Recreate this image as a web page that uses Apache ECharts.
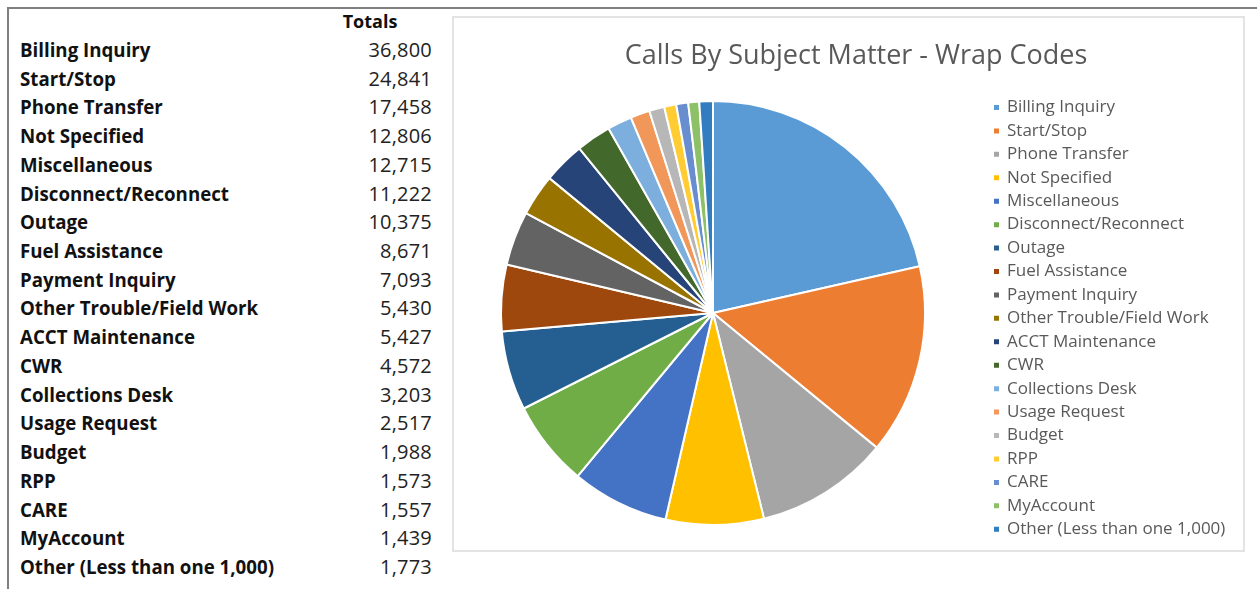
<!DOCTYPE html>
<html>
<head>
<meta charset="utf-8">
<script src="https://cdn.jsdelivr.net/npm/echarts@6/dist/echarts.min.js"></script>
<style>
  html, body { margin: 0; padding: 0; background: #fff; }
  body { width: 1257px; height: 589px; position: relative; overflow: hidden; font-family: "Open Sans", Lato, sans-serif; }
  .frame-top { position: absolute; left: 8px; top: 7px; width: 1249px; height: 2px; background: #7f7f7f; }
  .frame-left { position: absolute; left: 7px; top: 7px; width: 2px; height: 582px; background: #7f7f7f; }
  .totals-head { position: absolute; left: 320px; top: 9px; width: 100px; text-align: center; font-weight: bold; font-size: 18px; color: #111; }
  .row-label { position: absolute; left: 20px; font-weight: bold; font-size: 18.7px; line-height: 24px; color: #111; white-space: nowrap; }
  .row-value { position: absolute; left: 292px; width: 140px; text-align: right; font-size: 20px; letter-spacing: 0.2px; line-height: 24px; color: #222; }
  #chart { position: absolute; left: 452px; top: 16px; width: 793px; height: 536px; box-sizing: border-box; border: 2px solid #e3e3e3; }
</style>
</head>
<body>
<div class="frame-top"></div>
<div class="frame-left"></div>
<div class="totals-head">Totals</div>
<div id="table"></div>
<div id="chart"></div>
<script>
// 分类
const categories = [
  'Billing Inquiry', 'Start/Stop', 'Phone Transfer', 'Not Specified', 'Miscellaneous',
  'Disconnect/Reconnect', 'Outage', 'Fuel Assistance', 'Payment Inquiry', 'Other Trouble/Field Work',
  'ACCT Maintenance', 'CWR', 'Collections Desk', 'Usage Request', 'Budget',
  'RPP', 'CARE', 'MyAccount', 'Other (Less than one 1,000)'
]
// 数值
const totals = [
  36800, 24841, 17458, 12806, 12715,
  11222, 10375, 8671, 7093, 5430,
  5427, 4572, 3203, 2517, 1988,
  1573, 1557, 1439, 1773
]
// 颜色
const colors = [
  '#5B9BD5', '#ED7D31', '#A5A5A5', '#FFC000', '#4472C4',
  '#70AD47', '#255E91', '#9E480E', '#636363', '#997300',
  '#264478', '#43682B', '#7CAFDD', '#F1975A', '#B7B7B7',
  '#FFCD33', '#698ED0', '#8CC168', '#327DC2'
]

// 左侧表格
const table = document.getElementById('table')
categories.forEach((name, i) => {
  const top = 38 + i * 28.72
  const label = document.createElement('div')
  label.className = 'row-label'
  label.style.top = top + 'px'
  label.textContent = name
  const value = document.createElement('div')
  value.className = 'row-value'
  value.style.top = top + 'px'
  value.textContent = totals[i].toLocaleString('en-US')
  table.appendChild(label)
  table.appendChild(value)
})

const chart = echarts.init(document.getElementById('chart'))
chart.setOption({
  animation: false,
  color: colors,
  title: {
    text: 'Calls By Subject Matter - Wrap Codes',
    left: 397,
    top: 20,
    textAlign: 'center',
    textStyle: {
      color: '#595959',
      fontSize: 27,
      fontWeight: 'normal',
      fontFamily: 'Open Sans'
    }
  },
  legend: {
    orient: 'vertical',
    left: 533,
    top: 76,
    height: 500,
    itemWidth: 7,
    itemHeight: 7,
    itemGap: 6.43,
    icon: 'rect',
    textStyle: {
      color: '#595959',
      fontSize: 17,
      fontFamily: 'Open Sans',
      lineHeight: 16,
      padding: [0, 0, 0, 2]
    },
    data: categories
  },
  series: [
    {
      type: 'pie',
      center: [259, 295],
      radius: 212,
      startAngle: 90,
      clockwise: true,
      label: { show: false },
      labelLine: { show: false },
      itemStyle: {
        borderColor: '#fff',
        borderWidth: 2
      },
      data: categories.map((name, i) => ({ name, value: totals[i] }))
    }
  ]
})
</script>
</body>
</html>
